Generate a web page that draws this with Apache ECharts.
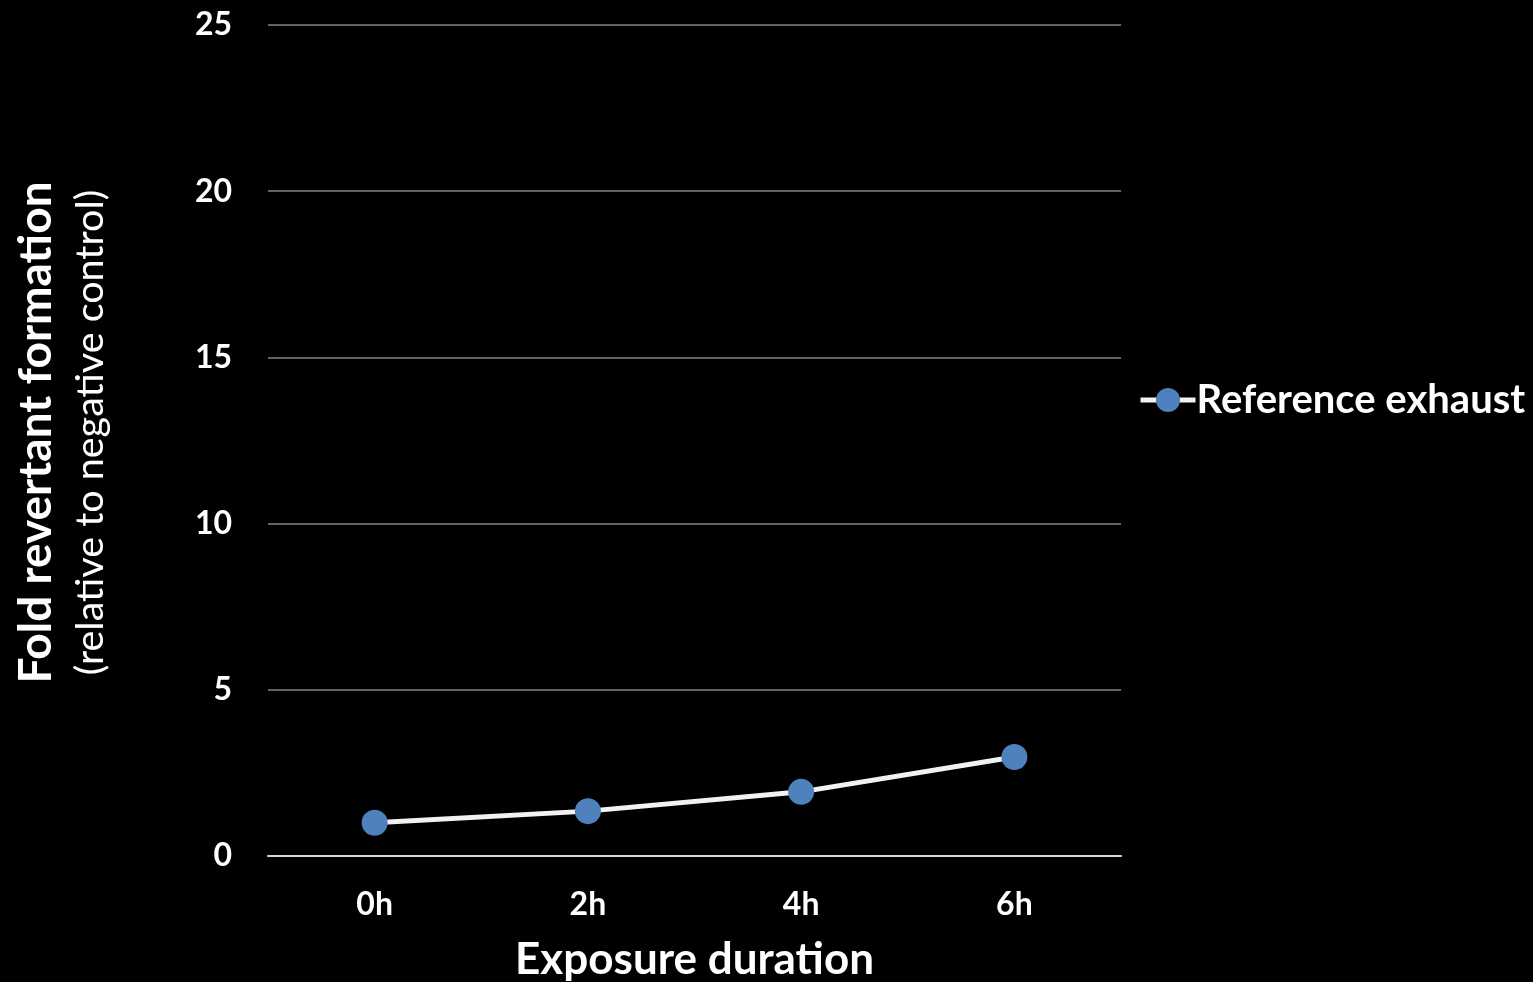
<!DOCTYPE html>
<html>
<head>
<meta charset="utf-8">
<script src="https://cdn.jsdelivr.net/npm/echarts@6/dist/echarts.min.js"></script>
<style>html,body{margin:0;padding:0;background:#000;}#chart{width:1533px;height:982px;}</style>
</head>
<body>
<div id="chart"></div>
<script>
const categories = ['0h', '2h', '4h', '6h'];
const seriesName = 'Reference exhaust';
const values = [1.0, 1.35, 1.93, 2.98];
const yTicks = { min: 0, max: 25, interval: 5 };
const xTitle = 'Exposure duration';
const yTitleMain = 'Fold revertant formation';
const yTitleSub = '(relative to negative control)';

const FONT = 'Lato';
const chart = echarts.init(document.getElementById('chart'));
chart.setOption({
  backgroundColor: '#000',
  animation: false,
  textStyle: { fontFamily: FONT },
  grid: { left: 268, right: 412, top: 25, bottom: 126, containLabel: false, outerBoundsMode: 'none' },
  legend: {
    data: [seriesName],
    left: 1133, top: 375,
    itemWidth: 55, itemHeight: 30, itemGap: 0,
    lineStyle: { width: 5, color: '#f2f2f2' },
    textStyle: { color: '#fff', fontSize: 40, fontWeight: 'bold', fontFamily: FONT, padding: [0, 0, 0, -4] }
  },
  xAxis: {
    type: 'category',
    data: categories,
    boundaryGap: true,
    axisLine: { lineStyle: { color: '#d9d9d9', width: 2 } },
    axisTick: { show: false },
    axisLabel: { color: '#fff', fontSize: 32, fontWeight: 'bold', margin: 33 },
    name: xTitle,
    nameLocation: 'middle',
    nameGap: 82,
    nameTextStyle: { color: '#fff', fontSize: 44, fontWeight: 'bold' }
  },
  yAxis: {
    type: 'value',
    min: yTicks.min, max: yTicks.max, interval: yTicks.interval,
    axisLine: { show: false },
    axisTick: { show: false },
    splitLine: { lineStyle: { color: '#868686', width: 1.5 } },
    axisLabel: { color: '#fff', fontSize: 32, fontWeight: 'bold', margin: 36 },
    name: '{a|' + yTitleMain + '}\n{b|' + yTitleSub + '}',
    nameLocation: 'middle',
    nameRotate: 90,
    nameGap: 151,
    nameTextStyle: {
      color: '#fff',
      padding: [0, 0, 0, 16],
      rich: {
        a: { fontSize: 46, fontWeight: 'bold', color: '#fff', lineHeight: 54, fontFamily: FONT },
        b: { fontSize: 39.5, fontWeight: 'normal', color: '#fff', lineHeight: 54, fontFamily: FONT }
      }
    }
  },
  series: [{
    name: seriesName,
    type: 'line',
    data: values,
    symbol: 'circle',
    symbolSize: 26,
    lineStyle: { color: '#f2f2f2', width: 5 },
    itemStyle: { color: '#4f81bd', borderWidth: 0 }
  }]
});
</script>
</body>
</html>
